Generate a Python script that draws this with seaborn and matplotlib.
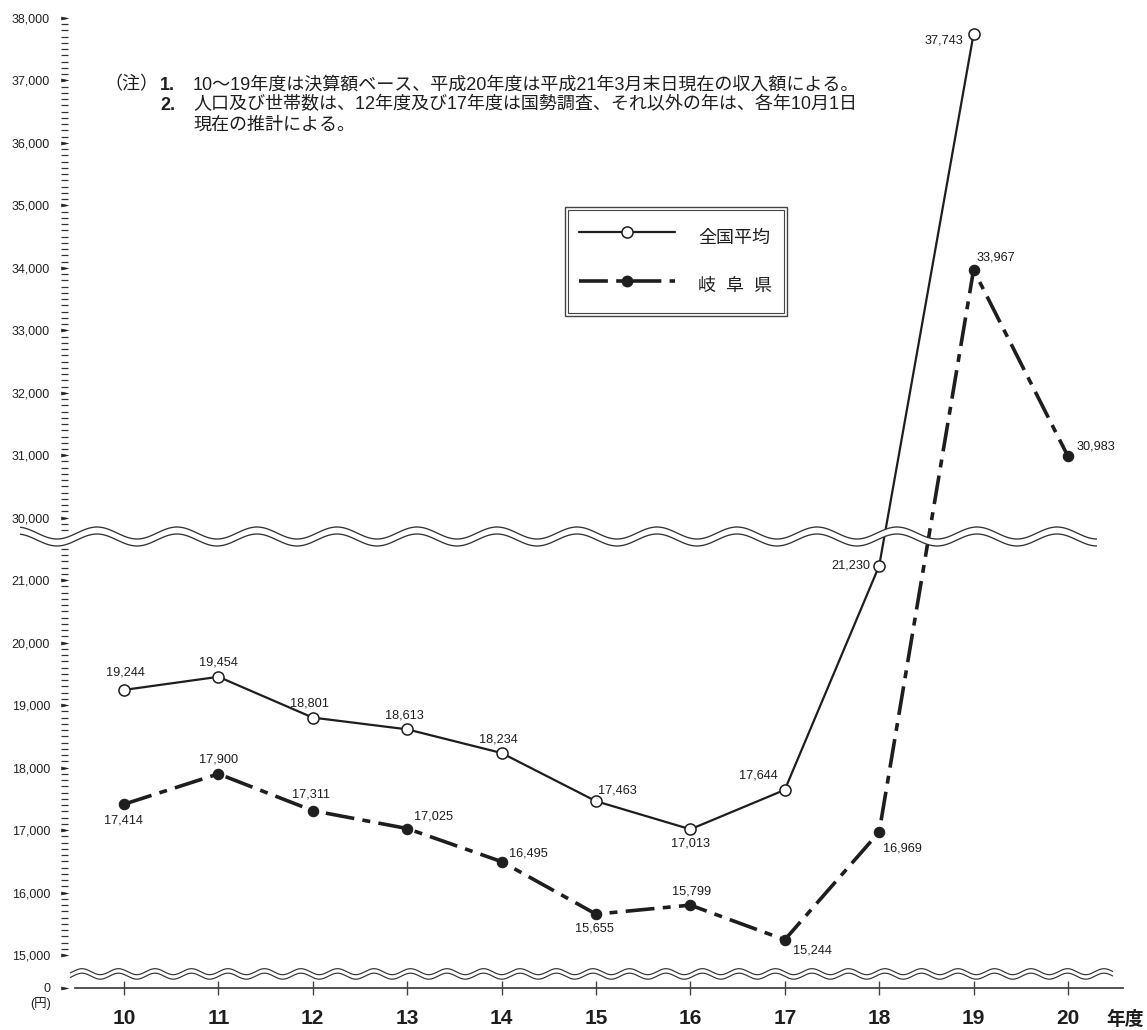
import numpy as np
import matplotlib
matplotlib.use("Agg")
import matplotlib.pyplot as plt
import seaborn as sns
from matplotlib.ticker import FixedLocator, FuncFormatter
from matplotlib.legend_handler import HandlerLine2D
from matplotlib.lines import Line2D
from matplotlib.patches import Polygon, Rectangle
from matplotlib.path import Path
from matplotlib.transforms import IdentityTransform

# ---------------- data ----------------
years = [10, 11, 12, 13, 14, 15, 16, 17, 18, 19, 20]
year_labels = [str(y) for y in years]
national_years = [10, 11, 12, 13, 14, 15, 16, 17, 18, 19]
national_avg = [19244, 19454, 18801, 18613, 18234, 17463, 17013, 17644, 21230, 37743]
gifu = [17414, 17900, 17311, 17025, 16495, 15655, 15799, 15244, 16969, 33967, 30983]
series_names = ["全国平均", "岐  阜  県"]

y_major = [0] + list(range(15000, 21001, 1000)) + list(range(30000, 38001, 1000))
y_minor = list(range(15100, 21600, 100)) + list(range(29800, 38000, 100))

note_lines = [
    "10〜19年度は決算額ベース、平成20年度は平成21年3月末日現在の収入額による。",
    "人口及び世帯数は、12年度及び17年度は国勢調査、それ以外の年は、各年10月1日",
    "現在の推計による。",
]

# label placement: (dx px, dy px, horizontal alignment)
national_label_pos = {
    10: (1, 17, "center"), 11: (0, 14, "center"), 12: (-3, 14, "center"),
    13: (-3, 14, "center"), 14: (-3, 14, "center"), 15: (21, 11, "center"),
    16: (0, -14, "center"), 17: (-26, 14, "center"), 18: (-9, 0, "right"),
    19: (-10, -6, "right"),
}
gifu_label_pos = {
    10: (-1, -16, "center"), 11: (0, 14, "center"), 12: (-2, 16, "center"),
    13: (7, 12, "left"), 14: (7, 8, "left"), 15: (-1, -14, "center"),
    16: (1, 14, "center"), 17: (8, -11, "left"), 18: (4, -16, "left"),
    19: (3, 12, "left"), 20: (9, 10, "left"),
}

# ---------------- style ----------------
sns.set_style("white")
plt.rcParams["font.family"] = ["Liberation Sans", "Noto Sans CJK JP"]
INK = "#1e1e1e"
W, H = 1147, 1030

# broken value axis: 0-15,000 squeezed, gap between 21,700 and 29,700
LOW_SPAN = 0.528
BREAK_LO, BREAK_HI = 21700.0, 29700.0
SHIFT = (BREAK_HI - BREAK_LO) / 1000 - 0.001


def fwd(v):
    v = np.asarray(v, dtype=float)
    return np.where(
        v < 15000, 15 - LOW_SPAN + v / 15000 * LOW_SPAN,
        np.where(v <= BREAK_LO, v / 1000,
                 np.where(v < BREAK_HI, BREAK_LO / 1000 + (v - BREAK_LO) * 1e-7,
                          v / 1000 - SHIFT)))


def inv(d):
    d = np.asarray(d, dtype=float)
    lo = BREAK_LO / 1000
    return np.where(
        d < 15, (d - (15 - LOW_SPAN)) / LOW_SPAN * 15000,
        np.where(d <= lo, d * 1000,
                 np.where(d < lo + 0.001,
                          np.clip(BREAK_LO + (d - lo) / 1e-7, BREAK_LO, BREAK_HI),
                          (d + SHIFT) * 1000)))


fig = plt.figure(figsize=(W / 100, H / 100), dpi=100)
fig.patch.set_facecolor("white")
ax = fig.add_axes([75 / W, 1 - 988 / H, (1123 - 75) / W, 970 / H])
ax.set_facecolor("white")

# ---------------- series ----------------
sns.lineplot(x=national_years, y=national_avg, ax=ax, color=INK, linewidth=1.6,
             marker="o", markersize=8, markerfacecolor="white",
             markeredgecolor=INK, markeredgewidth=1.1, errorbar=None, zorder=3)
dash_pattern = (0, (8, 2.3, 2.2, 2.3))
sns.lineplot(x=years, y=gifu, ax=ax, color=INK, linewidth=2.6,
             linestyle=dash_pattern, marker="o", markersize=7.5,
             markerfacecolor=INK, markeredgecolor=INK, markeredgewidth=0.8,
             errorbar=None, zorder=3)

ax.set_yscale("function", functions=(fwd, inv))
ax.set_ylim(0, 38000)
ax.set_xlim(9.481, 20.583)

# ---------------- axes ----------------
for s in ("top", "right"):
    ax.spines[s].set_visible(False)
ax.spines["left"].set_position(("outward", 5))
ax.spines["left"].set_visible(False)
ax.spines["bottom"].set_color("#444444")
ax.spines["bottom"].set_linewidth(1.3)

ax.yaxis.set_major_locator(FixedLocator(y_major))
ax.yaxis.set_minor_locator(FixedLocator(y_minor))
ax.yaxis.set_major_formatter(FuncFormatter(lambda v, p: f"{v:,.0f}"))
ax.tick_params(axis="y", which="both", left=True, right=False)
ax.tick_params(axis="y", which="minor", direction="out", length=5, width=0.9,
               color="#333333")
ax.tick_params(axis="y", which="major", direction="out", length=5, width=0.9,
               color="#222222", pad=8, labelsize=9, labelcolor="#222222")

tri = Path([(-1, -0.22), (0, 0), (-1, 0.22), (-1, -0.22)],
           [Path.MOVETO, Path.LINETO, Path.LINETO, Path.CLOSEPOLY])
for t in ax.yaxis.get_major_ticks(numticks=len(y_major)):
    t.tick1line.set_marker(tri)
    t.tick1line.set_markersize(10)
    t.tick1line.set_markerfacecolor("#222222")
    t.tick1line.set_markeredgecolor("#222222")
    t.tick1line.set_markeredgewidth(0.4)

ax.set_xticks(years, year_labels)
ax.tick_params(axis="x", which="major", bottom=True, top=False,
               direction="inout", length=10, width=1, color="#444444", pad=10,
               labelsize=15, labelcolor=INK)
ax.tick_params(axis="x", which="minor", bottom=False, top=False)
for lbl in ax.get_xticklabels():
    lbl.set_fontweight("bold")
ax.set_xlabel("")
ax.set_ylabel("")
ax.grid(False)


def fx(x):
    return x / W


def fy(y):
    return 1 - y / H


fig.text(fx(1106), fy(1019), "年度", ha="left", va="center", fontsize=13.5,
         fontweight="bold", family=["Noto Sans CJK JP"], color=INK)
fig.text(fx(41), fy(1004), "(円)", ha="center", va="center", fontsize=9,
         color=INK)

# ---------------- value labels ----------------
PT = 0.72
for yr, val in zip(national_years, national_avg):
    dx, dy, ha = national_label_pos[yr]
    ax.annotate(f"{val:,}", (yr, val), xytext=(dx * PT, dy * PT),
                textcoords="offset points", ha=ha, va="center", fontsize=9.2,
                color=INK, zorder=4)
for yr, val in zip(years, gifu):
    dx, dy, ha = gifu_label_pos[yr]
    ax.annotate(f"{val:,}", (yr, val), xytext=(dx * PT, dy * PT),
                textcoords="offset points", ha=ha, va="center", fontsize=9.2,
                color=INK, zorder=4)


# ---------------- legend ----------------
class MarkerOffsetHandler(HandlerLine2D):
    def get_xdata(self, legend, xdescent, ydescent, width, height, fontsize):
        xdata = np.array([-xdescent, -xdescent + width], dtype=float)
        return xdata, np.array([-xdescent + 0.66 * width])


handles = [
    Line2D([], [], color=INK, lw=1.6, marker="o", ms=8, mfc="white", mec=INK,
           mew=1.1),
    Line2D([], [], color=INK, lw=2.6, linestyle=dash_pattern, marker="o",
           ms=7.5, mfc=INK, mec=INK),
]
leg = ax.legend(handles, series_names, loc="upper left",
                bbox_to_anchor=(fx(565), fy(207)), bbox_transform=fig.transFigure,
                borderaxespad=0, frameon=True, fancybox=False, framealpha=1,
                edgecolor="#444444", fontsize=13, borderpad=0.8,
                handlelength=5.3, handleheight=2.3, handletextpad=1.28,
                labelspacing=0.95,
                handler_map={Line2D: MarkerOffsetHandler(numpoints=1)})
leg.get_frame().set_linewidth(1.0)
for txt in leg.get_texts():
    txt.set_color(INK)

# ---------------- notes ----------------
NOTE_FS = 13
NOTE_Y0, NOTE_STEP = 85, 20
fig.text(fx(104), fy(NOTE_Y0), "（注）", ha="left", va="center", fontsize=NOTE_FS,
         color=INK)
fig.text(fx(160), fy(NOTE_Y0), "1.", ha="left", va="center", fontsize=NOTE_FS,
         fontweight="bold", color=INK)
fig.text(fx(160), fy(NOTE_Y0 + NOTE_STEP), "2.", ha="left", va="center",
         fontsize=NOTE_FS, fontweight="bold", color=INK)
for i, line in enumerate(note_lines):
    fig.text(fx(193), fy(NOTE_Y0 + NOTE_STEP * i), line, ha="left", va="center",
             fontsize=NOTE_FS, color=INK)

# ---------------- break markers ----------------
fig.canvas.draw()
ident = IdentityTransform()


def add_break(y_center, x0, x1, period, crest_x, amp, gap, lw):
    xs = np.linspace(x0, x1, 1500)
    top = y_center + gap / 2 + amp * np.cos(2 * np.pi * (xs - crest_x) / period)
    bot = top - gap
    verts = np.concatenate([np.column_stack([xs, top]),
                            np.column_stack([xs[::-1], bot[::-1]])])
    fig.add_artist(Polygon(verts, closed=True, transform=ident, facecolor="white",
                           edgecolor="none", zorder=5))
    for ys in (top, bot):
        fig.add_artist(Line2D(xs, ys, transform=ident, color="#333333", lw=lw,
                              zorder=6, solid_capstyle="butt"))


y_upper = ax.transData.transform((10, BREAK_LO))[1]
y_lower = ax.transData.transform((10, 6400))[1]
add_break(y_upper, 20, 1097, 80, 17, 6, 7, 0.95)
add_break(y_lower, 70, 1113, 36.5, 82, 3, 4.5, 0.85)

# double frame of the legend
renderer = fig.canvas.get_renderer()
bb = leg.get_frame().get_window_extent(renderer)
fig.add_artist(Rectangle((bb.x0 + 3, bb.y0 + 3), bb.width - 6, bb.height - 6,
                         transform=ident, fill=False, edgecolor="#444444",
                         lw=0.8, zorder=6))

fig.savefig("out.png", dpi=100, facecolor="white")
